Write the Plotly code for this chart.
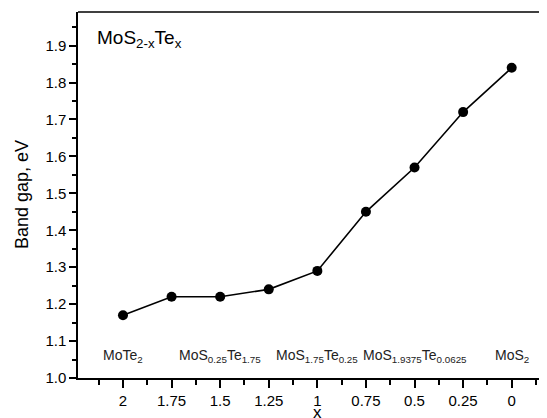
import plotly.graph_objects as go

x_vals = [2, 1.75, 1.5, 1.25, 1, 0.75, 0.5, 0.25, 0]
band_gap = [1.17, 1.22, 1.22, 1.24, 1.29, 1.45, 1.57, 1.72, 1.84]

x_ticks = [2, 1.75, 1.5, 1.25, 1, 0.75, 0.5, 0.25, 0]
x_tick_labels = ["2", "1.75", "1.5", "1.25", "1", "0.75", "0.5", "0.25", "0"]
y_ticks = [1.0, 1.1, 1.2, 1.3, 1.4, 1.5, 1.6, 1.7, 1.8, 1.9]

compound_x = [2, 1.5, 1, 0.5, 0]
compound_labels = [
    "MoTe<sub>2</sub>",
    "MoS<sub>0.25</sub>Te<sub>1.75</sub>",
    "MoS<sub>1.75</sub>Te<sub>0.25</sub>",
    "MoS<sub>1.9375</sub>Te<sub>0.0625</sub>",
    "MoS<sub>2</sub>",
]

FONT = "Liberation Sans, Arial, sans-serif"

fig = go.Figure()
fig.add_trace(go.Scatter(
    x=x_vals, y=band_gap, mode="lines+markers",
    line=dict(color="black", width=1.6),
    marker=dict(color="black", size=10),
    showlegend=False,
))

for cx, lab in zip(compound_x, compound_labels):
    fig.add_annotation(x=cx, y=1.06, text=lab, showarrow=False,
                       xanchor="center", yanchor="middle",
                       font=dict(size=14, color="#222", family=FONT))

fig.add_annotation(xref="paper", yref="paper", x=0.0356, y=0.926,
                   text="MoS<sub>2-x</sub>Te<sub>x</sub>", showarrow=False,
                   xanchor="left", yanchor="middle",
                   font=dict(size=19, color="black", family=FONT))

# axis titles
fig.add_annotation(xref="paper", yref="paper", x=0, y=0.5, xshift=-56,
                   text="Band gap, eV", textangle=-90, showarrow=False,
                   xanchor="center", yanchor="middle",
                   font=dict(size=18, color="black", family=FONT))
fig.add_annotation(xref="x", yref="paper", x=1, y=0, yshift=-34,
                   text="x", showarrow=False,
                   xanchor="center", yanchor="middle",
                   font=dict(size=17, color="black", family=FONT))

fig.update_layout(
    width=547, height=418,
    margin=dict(l=70, r=0, t=4, b=48),
    paper_bgcolor="white", plot_bgcolor="white",
    font=dict(family=FONT, color="black"),
    xaxis=dict(
        range=[2.2315, -0.2228], automargin=False,
        tickmode="array", tickvals=x_ticks, ticktext=x_tick_labels,
        ticks="outside", ticklen=8, tickwidth=1.5, tickcolor="black",
        minor=dict(tickmode="array",
                   tickvals=[2.125, 1.875, 1.625, 1.375, 1.125, 0.875, 0.625, 0.375, 0.125, -0.125],
                   ticks="outside", ticklen=5, tickwidth=1.5, tickcolor="black"),
        showline=True, linecolor="black", linewidth=1.5, mirror=False,
        showgrid=False, zeroline=False,
        tickfont=dict(size=15, family=FONT),
    ),
    yaxis=dict(
        range=[1.0, 1.991], automargin=False,
        tickmode="array", tickvals=y_ticks, tickformat=".1f",
        ticks="outside", ticklen=7, tickwidth=1.5, tickcolor="black",
        minor=dict(tickmode="array",
                   tickvals=[1.05, 1.15, 1.25, 1.35, 1.45, 1.55, 1.65, 1.75, 1.85, 1.95],
                   ticks="outside", ticklen=4, tickwidth=1.5, tickcolor="black"),
        showline=True, linecolor="black", linewidth=1.5,
        showgrid=False, zeroline=False,
        tickfont=dict(size=15, family=FONT),
    ),
    shapes=[dict(type="line", xref="paper", yref="paper", x0=0, x1=1, y0=1, y1=1,
                 line=dict(color="black", width=1.5))],
)

fig.write_html("out.html")
